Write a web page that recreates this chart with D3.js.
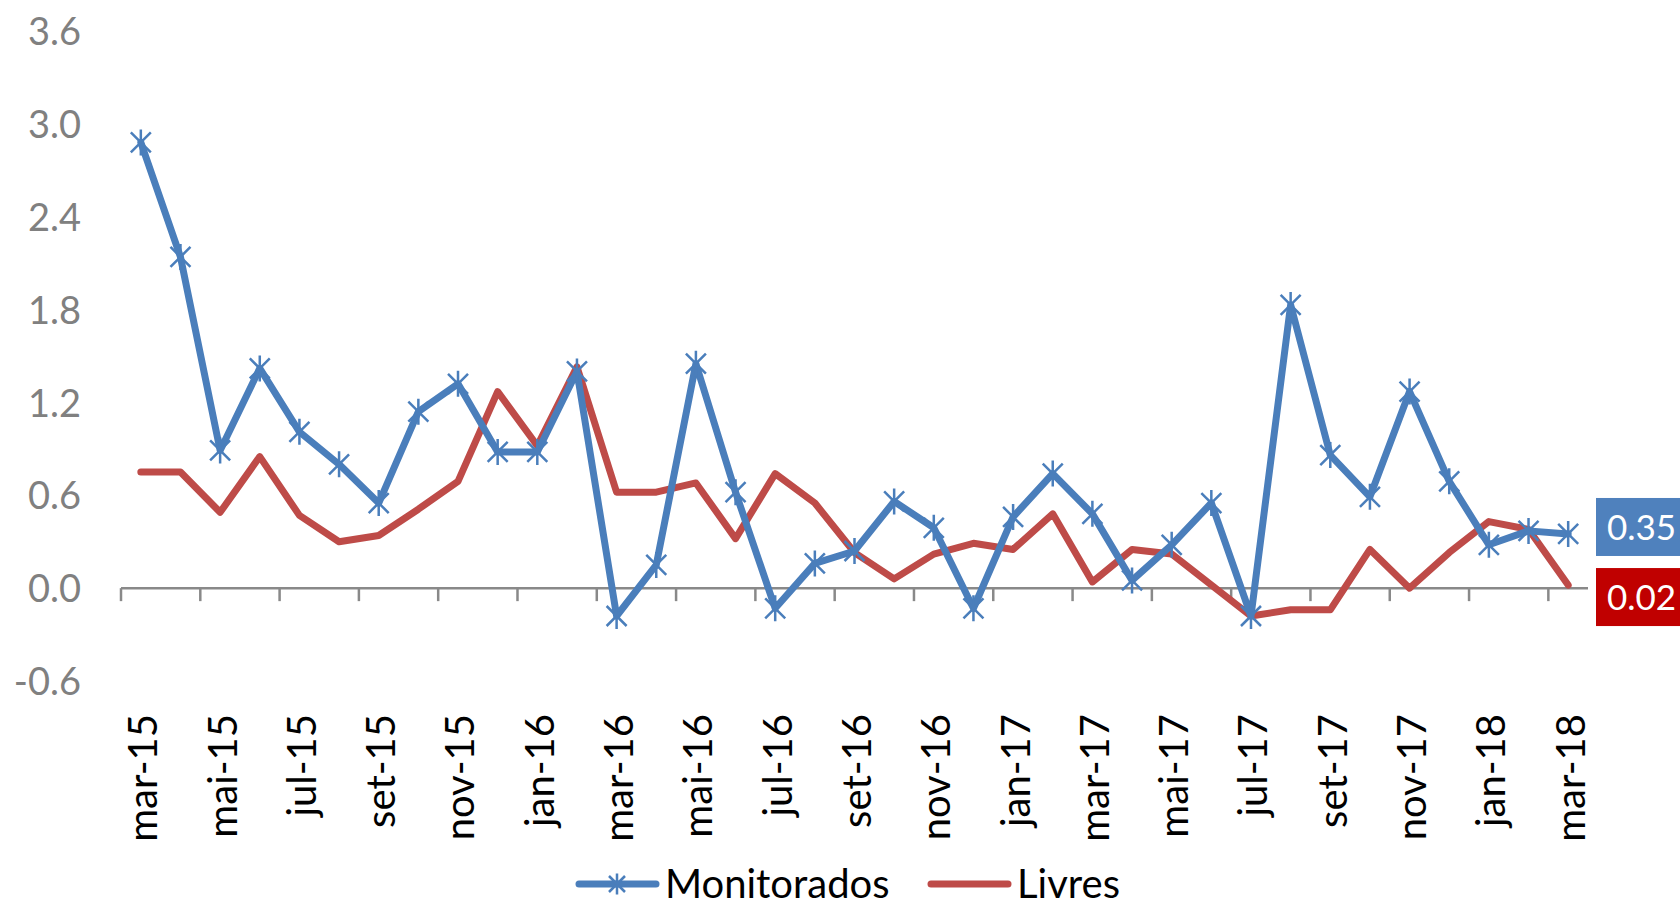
<!DOCTYPE html>
<html>
<head>
<meta charset="utf-8">
<script src="https://cdn.jsdelivr.net/npm/d3@7"></script>
<style>
body { margin: 0; background: #fff; }
svg { display: block; font-family: Lato, 'Open Sans', sans-serif; }
</style>
</head>
<body>
<svg id="chart" width="1680" height="906"></svg>
<script>
// monthly data, mar-15 .. mar-18
var months = ['mar-15', 'abr-15', 'mai-15', 'jun-15', 'jul-15', 'ago-15', 'set-15', 'out-15', 'nov-15', 'dez-15',
  'jan-16', 'fev-16', 'mar-16', 'abr-16', 'mai-16', 'jun-16', 'jul-16', 'ago-16', 'set-16', 'out-16', 'nov-16', 'dez-16',
  'jan-17', 'fev-17', 'mar-17', 'abr-17', 'mai-17', 'jun-17', 'jul-17', 'ago-17', 'set-17', 'out-17', 'nov-17', 'dez-17',
  'jan-18', 'fev-18', 'mar-18'];
var monitorados = [2.88, 2.14, 0.89, 1.42, 1.01, 0.80, 0.55, 1.14, 1.32, 0.88,
  0.88, 1.40, -0.18, 0.15, 1.45, 0.62, -0.13, 0.16, 0.24, 0.56, 0.39, -0.13,
  0.46, 0.74, 0.48, 0.05, 0.28, 0.55, -0.18, 1.83, 0.86, 0.59, 1.27, 0.69,
  0.28, 0.37, 0.35];
var livres = [0.75, 0.75, 0.49, 0.85, 0.47, 0.30, 0.34, 0.51, 0.69, 1.27,
  0.92, 1.43, 0.62, 0.62, 0.68, 0.32, 0.74, 0.55, 0.23, 0.06, 0.22, 0.29,
  0.25, 0.48, 0.04, 0.25, 0.22, 0.02, -0.18, -0.14, -0.14, 0.25, 0.00, 0.23,
  0.43, 0.38, 0.02];
var yTicks = [-0.6, 0.0, 0.6, 1.2, 1.8, 2.4, 3.0, 3.6];
var seriesNames = ['Monitorados', 'Livres'];
var lastLabels = ['0.35', '0.02'];

var blue = '#4a7ebb';
var red = '#be4b48';

var svg = d3.select('#chart');

var xScale = d3.scaleBand().domain(months).range([121, 1588]).padding(0);
var yScale = d3.scaleLinear().domain([-0.6, 3.6]).range([681, 31]);
function xMid(m) {
  return xScale(m) + xScale.bandwidth() / 2;
}
var labelMonths = months.filter(function(m, i) { return i % 2 == 0; });

// y axis, labels only
var yAxis = d3.axisLeft(yScale).tickValues(yTicks).tickSize(0).tickPadding(0)
  .tickFormat(function(d) { return d.toFixed(1); });
var yAxisGroup = svg.append('g')
  .attr('transform', 'translate(81,0)')
  .call(yAxis);
yAxisGroup.select('.domain').remove();
yAxisGroup.attr('font-family', null).attr('font-size', null);
yAxisGroup.selectAll('text')
  .attr('fill', '#808080')
  .attr('font-size', 38)
  .attr('dy', '0.36em');

// x axis line at zero + tick marks every 2 months
var y0 = yScale(0);
svg.append('line')
  .attr('x1', xScale.range()[0]).attr('x2', xScale.range()[1])
  .attr('y1', y0).attr('y2', y0)
  .attr('stroke', '#898989').attr('stroke-width', 2.5);
svg.selectAll('.xtick').data(labelMonths).enter().append('line')
  .attr('class', 'xtick')
  .attr('x1', function(d) { return xScale(d); })
  .attr('x2', function(d) { return xScale(d); })
  .attr('y1', y0).attr('y2', y0 + 13)
  .attr('stroke', '#898989').attr('stroke-width', 2.5);

// rotated month labels
svg.selectAll('.xlabel').data(labelMonths).enter().append('text')
  .attr('class', 'xlabel')
  .attr('transform', function(d) {
    return 'translate(' + (xMid(d) + 2) + ',714) rotate(-90)';
  })
  .attr('text-anchor', 'end')
  .attr('dy', '0.36em')
  .attr('font-size', 40)
  .attr('fill', '#000')
  .text(function(d) { return d; });

// lines
var line = d3.line()
  .x(function(d, i) { return xMid(months[i]); })
  .y(function(d) { return yScale(d); });

svg.append('path').datum(livres)
  .attr('d', line)
  .attr('fill', 'none').attr('stroke', red)
  .attr('stroke-width', 7).attr('stroke-linejoin', 'round').attr('stroke-linecap', 'round');

svg.append('path').datum(monitorados)
  .attr('d', line)
  .attr('fill', 'none').attr('stroke', blue)
  .attr('stroke-width', 7).attr('stroke-linejoin', 'round').attr('stroke-linecap', 'round');

// star markers (x + vertical bar)
function starPath(s) {
  return 'M' + (-s) + ',' + (-s) + 'L' + s + ',' + s +
    'M' + (-s) + ',' + s + 'L' + s + ',' + (-s) +
    'M0,' + (-s * 1.3) + 'L0,' + (s * 1.3);
}
svg.selectAll('.marker').data(monitorados).enter().append('path')
  .attr('class', 'marker')
  .attr('transform', function(d, i) {
    return 'translate(' + xMid(months[i]) + ',' + yScale(d) + ')';
  })
  .attr('d', starPath(10))
  .attr('fill', 'none').attr('stroke', blue).attr('stroke-width', 2.5);

// last value labels on the right
var lastBoxes = [
  { text: lastLabels[0], color: '#4f81bd', cy: yScale(monitorados[monitorados.length - 1]) - 7 },
  { text: lastLabels[1], color: '#c00000', cy: yScale(livres[livres.length - 1]) + 12 }
];
var boxes = svg.selectAll('.lastbox').data(lastBoxes).enter().append('g')
  .attr('class', 'lastbox')
  .attr('transform', function(d) { return 'translate(1596,' + d.cy + ')'; });
boxes.append('rect')
  .attr('x', 0).attr('y', -29).attr('width', 84).attr('height', 58)
  .attr('fill', function(d) { return d.color; });
boxes.append('text')
  .attr('x', 11).attr('dy', '0.36em')
  .attr('font-size', 35).attr('fill', '#fff')
  .text(function(d) { return d.text; });

// legend
var legendY = 884;
var legend = svg.append('g');
var legendItems = [
  { name: seriesNames[0], color: blue, x: 579, marker: true },
  { name: seriesNames[1], color: red, x: 931, marker: false }
];
legendItems.forEach(function(item) {
  legend.append('line')
    .attr('x1', item.x).attr('x2', item.x + 77)
    .attr('y1', legendY).attr('y2', legendY)
    .attr('stroke', item.color).attr('stroke-width', 7).attr('stroke-linecap', 'round');
  if (item.marker) {
    legend.append('path')
      .attr('transform', 'translate(' + (item.x + 38) + ',' + legendY + ')')
      .attr('d', starPath(8))
      .attr('fill', 'none').attr('stroke', item.color).attr('stroke-width', 2.5);
  }
  legend.append('text')
    .attr('x', item.x + 86).attr('y', legendY).attr('dy', '0.34em')
    .attr('font-size', 40).attr('fill', '#000')
    .text(item.name);
});
</script>
</body>
</html>
